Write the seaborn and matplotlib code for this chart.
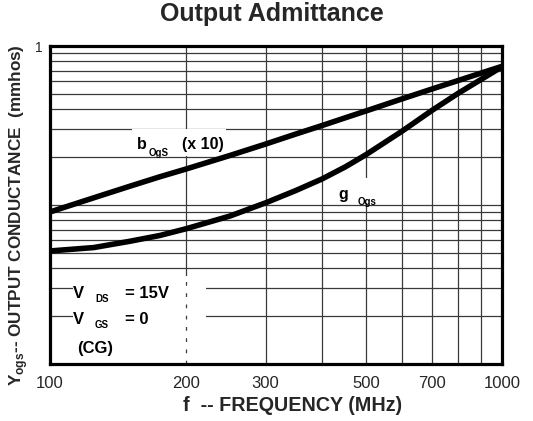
import numpy as np
import pandas as pd
import matplotlib
matplotlib.use("Agg")
import matplotlib.pyplot as plt
from matplotlib.patches import Rectangle
import seaborn as sns

# Frequency points (MHz)
freq = [100, 125, 150, 175, 200, 250, 300, 350, 400, 450, 500, 600, 700, 800, 900, 1000]
# Output susceptance b_OgS (x10), mmhos
b_ogs = [0.0904, 0.1110, 0.1311, 0.1505, 0.1684, 0.2048, 0.2418, 0.2796,
         0.3162, 0.3535, 0.3902, 0.4642, 0.5365, 0.6067, 0.6764, 0.745]
# Output conductance g_Ogs, mmhos
g_ogs = [0.0514, 0.0540, 0.0591, 0.0643, 0.0709, 0.0852, 0.1032, 0.1234,
         0.1459, 0.1736, 0.2072, 0.2903, 0.3936, 0.5041, 0.6173, 0.740]

x_ticks = [100, 200, 300, 400, 500, 600, 700, 800, 900, 1000]
x_tick_labels = ["100", "200", "300", "", "500", "", "700", "", "", "1000"]
y_ticks = [0.01, 0.1, 1]
y_tick_labels = ["", "", "1"]

sns.set_style("white")
plt.rcParams["font.family"] = ["Liberation Sans", "DejaVu Sans"]
plt.rcParams["mathtext.fontset"] = "custom"
plt.rcParams["mathtext.bf"] = "Liberation Sans:bold"
plt.rcParams["mathtext.rm"] = "Liberation Sans"

df = pd.DataFrame({
    "freq": freq * 2,
    "y": b_ogs + g_ogs,
    "curve": ["b"] * len(freq) + ["g"] * len(freq),
})

fig = plt.figure(figsize=(5.33, 4.21), dpi=100)
ax = fig.add_axes([50 / 533, 1 - 364 / 421, 452 / 533, 318 / 421])

ax.set_xscale("log")
ax.set_yscale("log")
ax.set_xlim(100, 1000)
ax.set_ylim(0.01, 1)

sns.lineplot(data=df, x="freq", y="y", units="curve", estimator=None,
             color="black", linewidth=4.0, ax=ax, zorder=5,
             solid_capstyle="butt", solid_joinstyle="round")

# Ticks and grid
ax.xaxis.set_major_locator(matplotlib.ticker.FixedLocator(x_ticks))
ax.xaxis.set_minor_locator(matplotlib.ticker.NullLocator())
ax.xaxis.set_major_formatter(matplotlib.ticker.FixedFormatter(x_tick_labels))
ax.yaxis.set_major_locator(matplotlib.ticker.FixedLocator(y_ticks))
ax.yaxis.set_major_formatter(matplotlib.ticker.FixedFormatter(y_tick_labels))
ax.yaxis.set_minor_locator(matplotlib.ticker.LogLocator(base=10, subs=np.arange(2, 10)))
ax.yaxis.set_minor_formatter(matplotlib.ticker.NullFormatter())
ax.tick_params(axis="x", which="both", length=0, pad=9, labelsize=12)
ax.tick_params(axis="y", which="both", length=0, pad=5, labelsize=10)
ax.grid(True, which="both", color="#3a3a3a", linewidth=0.9)
ax.set_axisbelow(True)
ax.set_xlabel("")
ax.set_ylabel("")
for s in ax.spines.values():
    s.set_linewidth(2.3)
    s.set_color("black")
    s.set_zorder(10)

# White label panels masking the grid
def fx(px):
    return (px - 50) / 452

def fy(py):
    return (364 - py) / 318

def panel(x0, y0, x1, y1):
    ax.add_patch(Rectangle((fx(x0), fy(y1)), fx(x1) - fx(x0), fy(y0) - fy(y1),
                           transform=ax.transAxes, facecolor="white",
                           edgecolor="none", zorder=2))

panel(132, 129, 226, 156)
panel(333, 178, 383, 203)
panel(73, 276, 206, 363)
ax.axvline(200, ymin=0, ymax=fy(276), color="#3a3a3a", linewidth=0.9,
           linestyle=(0, (3, 6)), zorder=3)

txt = dict(transform=ax.transAxes, fontweight="bold", color="black", zorder=6,
           va="baseline", ha="left")
ax.text(fx(137), fy(149), "b", fontsize=11.5, **txt)
ax.text(fx(149), fy(156), "OgS", fontsize=7, **txt)
ax.text(fx(182), fy(149), "(x 10)", fontsize=11.5, **txt)
ax.text(fx(338), fy(199), "g", fontsize=11.5, **txt)
ax.text(fx(358), fy(205), "Ogs", fontsize=7, **txt)
ax.text(fx(73), fy(298), "V", fontsize=12, **txt)
ax.text(fx(95), fy(302), "DS", fontsize=7, **txt)
ax.text(fx(125), fy(298), "= 15V", fontsize=12, **txt)
ax.text(fx(73), fy(324), "V", fontsize=12, **txt)
ax.text(fx(95), fy(328), "GS", fontsize=7, **txt)
ax.text(fx(125), fy(324), "= 0", fontsize=12, **txt)
ax.text(fx(77), fy(353), "(CG)", fontsize=12, **txt)

fig.text(272 / 533, 1 - 21 / 421, "Output Admittance", fontsize=18,
         fontweight="bold", ha="center", va="baseline")
fig.text(293 / 533, 1 - 411 / 421, "f  -- FREQUENCY (MHz)", fontsize=14.2,
         fontweight="bold", ha="center", va="baseline")
fig.text(19 / 533, 1 - 215 / 421,
         r"$\mathbf{Y}_{\mathbf{ogs}}$" + "-- OUTPUT CONDUCTANCE  (mmhos)",
         fontsize=12.3, fontweight="bold", rotation=90, ha="center", va="center")

fig.savefig("out.png", dpi=100, facecolor="white")
